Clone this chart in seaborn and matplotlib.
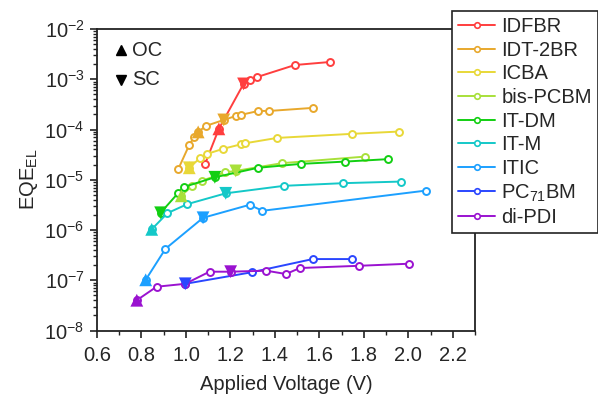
import numpy as np
import pandas as pd
import matplotlib
matplotlib.use("Agg")
import matplotlib.pyplot as plt
import seaborn as sns
from matplotlib.lines import Line2D
from matplotlib.ticker import LogLocator, MultipleLocator, NullFormatter, FixedLocator

# ---------------- data ----------------
materials = ["IDFBR", "IDT-2BR", "ICBA", "bis-PCBM", "IT-DM", "IT-M", "ITIC", "PC71BM", "di-PDI"]
legend_labels = ["IDFBR", "IDT-2BR", "ICBA", "bis-PCBM", "IT-DM", "IT-M", "ITIC", "PC$_{71}$BM", "di-PDI"]
colors = ["#FF3E3E", "#E8A82C", "#E8D838", "#A8E03A", "#12CF12", "#14C8C8", "#1CA0FF", "#2A46FF", "#9A12D0"]

v_idfbr = [1.086, 1.148, 1.259, 1.290, 1.321, 1.490, 1.650]
eqe_idfbr = [2.07e-5, 1.03e-4, 8.07e-4, 9.7e-4, 1.11e-3, 1.92e-3, 2.21e-3]

v_idt2br = [0.966, 1.015, 1.037, 1.055, 1.090, 1.170, 1.224, 1.246, 1.326, 1.375, 1.570]
eqe_idt2br = [1.65e-5, 4.94e-5, 7.1e-5, 8.95e-5, 1.18e-4, 1.55e-4, 1.86e-4, 1.95e-4, 2.34e-4, 2.34e-4, 2.69e-4]

v_icba = [1.015, 1.064, 1.095, 1.166, 1.246, 1.264, 1.410, 1.748, 1.957]
eqe_icba = [1.73e-5, 2.72e-5, 3.27e-5, 4.11e-5, 5.06e-5, 5.3e-5, 6.8e-5, 8.2e-5, 9.1e-5]

v_bispcbm = [0.979, 1.028, 1.072, 1.175, 1.224, 1.433, 1.806]
eqe_bispcbm = [4.79e-6, 7.57e-6, 9.5e-6, 1.40e-5, 1.50e-5, 2.14e-5, 2.89e-5]

v_itdm = [0.886, 0.966, 0.992, 1.130, 1.324, 1.517, 1.717, 1.908]
eqe_itdm = [2.20e-6, 5.5e-6, 7.2e-6, 1.12e-5, 1.73e-5, 2.07e-5, 2.30e-5, 2.57e-5]

v_itm = [0.846, 0.917, 1.006, 1.179, 1.441, 1.708, 1.966]
eqe_itm = [1.03e-6, 2.17e-6, 3.27e-6, 5.37e-6, 7.57e-6, 8.55e-6, 9.2e-6]

v_itic = [0.819, 0.908, 1.077, 1.286, 1.344, 2.081]
eqe_itic = [1.02e-7, 4.23e-7, 1.75e-6, 3.17e-6, 2.41e-6, 6.1e-6]

v_pc71bm = [0.997, 1.295, 1.570, 1.748]
eqe_pc71bm = [8.5e-8, 1.44e-7, 2.64e-7, 2.64e-7]

v_dipdi = [0.779, 0.868, 0.997, 1.106, 1.201, 1.361, 1.450, 1.512, 1.779, 2.001]
eqe_dipdi = [4.0e-8, 7.43e-8, 8.5e-8, 1.48e-7, 1.48e-7, 1.55e-7, 1.33e-7, 1.75e-7, 1.94e-7, 2.13e-7]

# open-circuit (OC) and short-circuit (SC) marked points
oc_material = ["IDFBR", "IDT-2BR", "ICBA", "bis-PCBM", "IT-M", "ITIC", "di-PDI"]
oc_v = [1.148, 1.055, 1.015, 0.979, 0.846, 0.819, 0.779]
oc_eqe = [1.03e-4, 8.95e-5, 1.73e-5, 4.79e-6, 1.03e-6, 1.02e-7, 4.0e-8]

sc_material = ["IDFBR", "IDT-2BR", "ICBA", "bis-PCBM", "IT-DM", "IT-DM", "IT-M", "ITIC", "PC71BM", "di-PDI"]
sc_v = [1.259, 1.170, 1.015, 1.224, 0.886, 1.130, 1.179, 1.077, 0.997, 1.201]
sc_eqe = [8.07e-4, 1.55e-4, 1.73e-5, 1.50e-5, 2.20e-6, 1.12e-5, 5.37e-6, 1.75e-6, 8.5e-8, 1.48e-7]

x_ticks = [0.6, 0.8, 1.0, 1.2, 1.4, 1.6, 1.8, 2.0, 2.2]
x_ticklabels = ["0.6", "0.8", "1.0", "1.2", "1.4", "1.6", "1.8", "2.0", "2.2"]

series_v = [v_idfbr, v_idt2br, v_icba, v_bispcbm, v_itdm, v_itm, v_itic, v_pc71bm, v_dipdi]
series_eqe = [eqe_idfbr, eqe_idt2br, eqe_icba, eqe_bispcbm, eqe_itdm, eqe_itm, eqe_itic, eqe_pc71bm, eqe_dipdi]

# ---------------- style ----------------
sns.set_style("ticks")
plt.rcParams["font.family"] = ["Liberation Sans", "DejaVu Sans"]
plt.rcParams["mathtext.fontset"] = "custom"
plt.rcParams["mathtext.rm"] = "Liberation Sans"
plt.rcParams["mathtext.it"] = "Liberation Sans:italic"
plt.rcParams["mathtext.default"] = "regular"

FS = 14.5
palette = dict(zip(materials, colors))

fig = plt.figure(figsize=(5.98, 3.94), dpi=100)
ax = fig.add_axes([97 / 598, 1 - 330.5 / 394, 378 / 598, 301.5 / 394])

for name, v, e in zip(materials, series_v, series_eqe):
    df = pd.DataFrame({"V": v, "EQE": e})
    sns.lineplot(data=df, x="V", y="EQE", ax=ax, color=palette[name], sort=False,
                 estimator=None, linewidth=1.4, marker="o", markersize=5,
                 markerfacecolor="white", markeredgecolor=palette[name],
                 markeredgewidth=1.4, zorder=3)

oc_df = pd.DataFrame({"V": oc_v, "EQE": oc_eqe, "material": oc_material})
sc_df = pd.DataFrame({"V": sc_v, "EQE": sc_eqe, "material": sc_material})
sns.scatterplot(data=oc_df, x="V", y="EQE", hue="material", palette=palette, marker="^",
                s=85, linewidth=0, legend=False, ax=ax, zorder=4)
sns.scatterplot(data=sc_df, x="V", y="EQE", hue="material", palette=palette, marker="v",
                s=85, linewidth=0, legend=False, ax=ax, zorder=4)

ax.set_yscale("log")
ax.set_xlim(0.6, 2.3)
ax.set_ylim(1e-8, 1e-2)
ax.set_xticks(x_ticks)
ax.set_xticklabels(x_ticklabels)
ax.xaxis.set_minor_locator(MultipleLocator(0.1))
ax.yaxis.set_major_locator(LogLocator(base=10, numticks=10))
minor_y = [m * 10.0 ** k for k in range(-8, -2) for m in range(2, 10)]
ax.yaxis.set_minor_locator(FixedLocator(minor_y))
ax.yaxis.set_minor_formatter(NullFormatter())

ax.tick_params(axis="both", which="major", labelsize=FS, length=5, width=1.2, color="#222222")
ax.tick_params(axis="x", which="major", pad=6)
ax.tick_params(axis="y", which="major", pad=4)
ax.tick_params(axis="both", which="minor", length=3, width=1.0, color="#222222")
ax.tick_params(top=False, right=False)
for sp in ax.spines.values():
    sp.set_color("#222222")
    sp.set_linewidth(1.3)

ax.set_xlabel("Applied Voltage (V)", fontsize=FS, labelpad=7)
ax.set_ylabel("EQE$_{EL}$", fontsize=FS, labelpad=3)

# OC / SC key inside the axes
ax.plot([0.0635], [0.930], marker="^", color="black", markersize=7.5, linestyle="none", transform=ax.transAxes)
ax.plot([0.0635], [0.831], marker="v", color="black", markersize=7.5, linestyle="none", transform=ax.transAxes)
ax.text(0.093, 0.930, "OC", transform=ax.transAxes, fontsize=FS, va="center", ha="left")
ax.text(0.093, 0.831, "SC", transform=ax.transAxes, fontsize=FS, va="center", ha="left")

handles = [Line2D([], [], color=c, linewidth=1.4, marker="o", markersize=4, markerfacecolor="white",
                  markeredgecolor=c, markeredgewidth=1.2) for c in colors]
leg = fig.legend(handles, legend_labels, loc="upper left", bbox_to_anchor=(452 / 598, 1 - 11 / 394),
                 bbox_transform=fig.transFigure, borderaxespad=0, fontsize=FS, frameon=True,
                 fancybox=False, edgecolor="#222222", framealpha=1, handlelength=1.85,
                 handletextpad=0.3, labelspacing=0.23, borderpad=0.3)
leg.get_frame().set_linewidth(1.2)

fig.savefig("out.png", dpi=100)
